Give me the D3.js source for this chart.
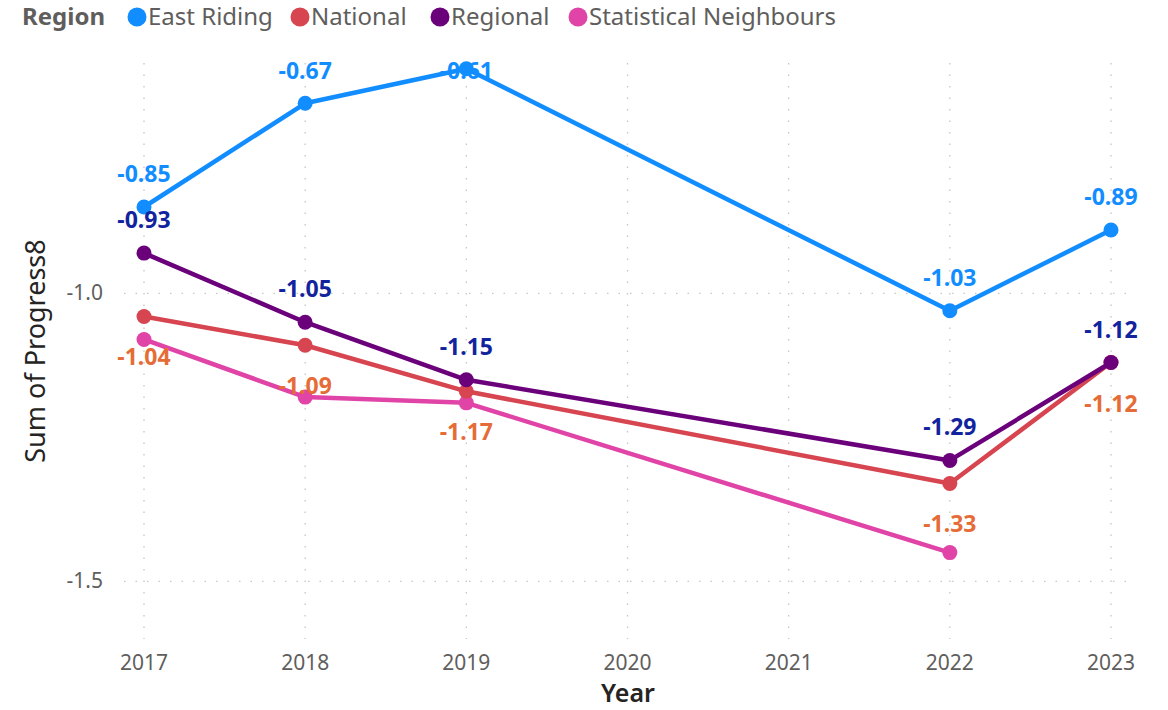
<!DOCTYPE html>
<html lang="en">
<head>
<meta charset="utf-8">
<title>Sum of Progress8 by Year</title>
<script src="https://d3js.org/d3.v7.min.js"></script>
<style>
  html, body { margin: 0; padding: 0; background: #fff; }
  svg text { font-family: "Segoe UI", "Noto Sans", "Open Sans", sans-serif; }
  .tick-label { fill: #605E5C; font-size: 21px; }
  .data-label { font-size: 23px; font-weight: bold; }
</style>
</head>
<body>
<svg width="1168" height="710"></svg>
<script>
// data
const years = [2017, 2018, 2019, 2020, 2021, 2022, 2023];
const seriesNames = ["East Riding", "National", "Regional", "Statistical Neighbours"];
const eastRiding = [[2017, -0.85], [2018, -0.67], [2019, -0.61], [2022, -1.03], [2023, -0.89]];
const national = [[2017, -1.04], [2018, -1.09], [2019, -1.17], [2022, -1.33], [2023, -1.12]];
const regional = [[2017, -0.93], [2018, -1.05], [2019, -1.15], [2022, -1.29], [2023, -1.12]];
const statNeighbours = [[2017, -1.08], [2018, -1.18], [2019, -1.19], [2022, -1.45]];
const yTicks = [-1.0, -1.5];

const lineColors = ["#118DFF", "#D64550", "#6B007B", "#E044A7"];
const labelColors = ["#118DFF", "#E66C37", "#12239E", null];
const labelPos = ["above", "below", "above", null];

const svg = d3.select("svg");

const x = d3.scaleLinear().domain([2017, 2023]).range([144, 1111]);
const y = d3.scaleLinear().domain([-1.6, -0.6]).range([639, 63]);

// grid
svg.append("g").selectAll("line")
  .data(years).enter().append("line")
  .attr("x1", d => x(d)).attr("x2", d => x(d))
  .attr("y1", y(-0.6)).attr("y2", y(-1.6))
  .attr("stroke", "#C8C6C4").attr("stroke-width", 1.3)
  .attr("stroke-dasharray", "1.5,10");

svg.append("g").selectAll("line")
  .data(yTicks).enter().append("line")
  .attr("x1", 124).attr("x2", 1126)
  .attr("y1", d => y(d)).attr("y2", d => y(d))
  .attr("stroke", "#C8C6C4").attr("stroke-width", 1.3)
  .attr("stroke-dasharray", "1.5,10");

// axes labels
svg.append("g").selectAll("text")
  .data(yTicks).enter().append("text")
  .attr("class", "tick-label")
  .attr("x", 103).attr("y", d => y(d) + 7)
  .attr("text-anchor", "end")
  .text(d => d3.format(".1f")(d).replace("−", "-"));

svg.append("g").selectAll("text")
  .data(years).enter().append("text")
  .attr("class", "tick-label")
  .attr("x", d => x(d)).attr("y", 670)
  .attr("text-anchor", "middle")
  .text(d => d);

svg.append("text")
  .attr("x", 628).attr("y", 702)
  .attr("text-anchor", "middle")
  .attr("fill", "#252423").style("font-size", "25px").style("font-weight", 600)
  .text("Year");

svg.append("text")
  .attr("transform", "translate(45,351) rotate(-90)")
  .attr("text-anchor", "middle")
  .attr("fill", "#252423").style("font-size", "27px")
  .text("Sum of Progress8");

// lines + markers
const allSeries = [eastRiding, national, regional, statNeighbours];
const line = d3.line().x(d => x(d[0])).y(d => y(d[1]));

// draw in order so that regional sits above national
const drawOrder = [0, 3, 1, 2];
drawOrder.forEach(i => {
  const g = svg.append("g");
  g.append("path")
    .datum(allSeries[i])
    .attr("d", line)
    .attr("fill", "none")
    .attr("stroke", lineColors[i])
    .attr("stroke-width", 4.5)
    .attr("stroke-linejoin", "round");
  g.selectAll("circle")
    .data(allSeries[i]).enter().append("circle")
    .attr("cx", d => x(d[0])).attr("cy", d => y(d[1]))
    .attr("r", 7.5)
    .attr("fill", lineColors[i]);
});

// data labels
[0, 1, 2].forEach(i => {
  svg.append("g").selectAll("text")
    .data(allSeries[i]).enter().append("text")
    .attr("class", "data-label")
    .attr("x", d => x(d[0])).attr("y", d => {
      if (labelPos[i] === "above") return Math.max(y(d[1]) - 25, 79);
      return y(d[1]) + 49;
    })
    .attr("text-anchor", "middle")
    .attr("fill", labelColors[i])
    .text(d => d3.format(".2f")(d[1]).replace("−", "-"));
});

// legend
const legend = svg.append("g");
legend.append("text")
  .attr("x", 22).attr("y", 25)
  .attr("fill", "#605E5C").style("font-size", "24px").style("font-weight", "bold")
  .text("Region");
const legendX = [137, 300, 440, 578];
seriesNames.forEach((name, i) => {
  legend.append("circle")
    .attr("cx", legendX[i]).attr("cy", 17).attr("r", 9.5)
    .attr("fill", lineColors[i]);
  legend.append("text")
    .attr("x", legendX[i] + 11).attr("y", 25)
    .attr("fill", "#605E5C").style("font-size", "24px")
    .text(name);
});
</script>
</body>
</html>
